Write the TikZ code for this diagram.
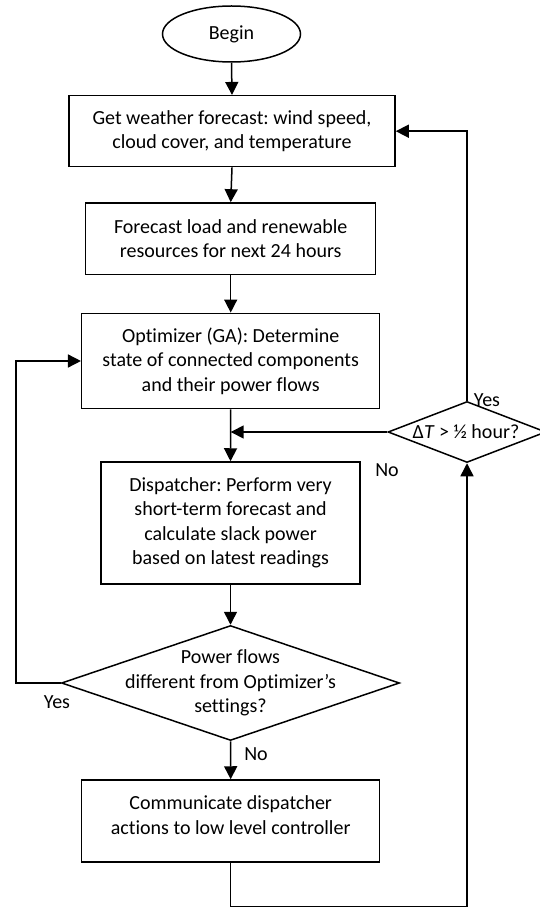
\documentclass[tikz,border=0pt]{standalone}
\usepackage{fontspec}
\setmainfont{Carlito}[Ligatures=NoCommon]
\frenchspacing
\usetikzlibrary{shapes.geometric,arrows.meta}
\begin{document}
\begin{tikzpicture}[x=1pt,y=-1pt,
  every node/.style={font=\fontsize{20}{24.5}\selectfont},
  line/.style={line width=1.5pt},
  arr/.style={line, -{Triangle[width=13pt,length=13pt]}},
  box/.style={draw, line width=1.5pt, rectangle, align=center, inner sep=0pt},
  dia/.style={draw, line width=1.5pt, diamond, inner sep=0pt},
  txt/.style={align=center, inner sep=0pt},
  lbl/.style={inner sep=0pt}]
\useasboundingbox (0,0) rectangle (540,909);
\node[draw, line width=1.5pt, ellipse, minimum width=138pt, minimum height=56pt, inner sep=0pt] (begin) at (231.5,34) {Begin};
\node[box, minimum width=326pt, minimum height=71pt] (b1) at (232,131.2) {Get weather forecast: wind speed,\\cloud cover, and temperature};
\node[box, minimum width=290pt, minimum height=71.7pt] (b2) at (230.7,238.8) {Forecast load and renewable\\resources for next 24 hours};
\node[box, minimum width=298pt, minimum height=95.4pt] (b3) at (230.7,361) {Optimizer (GA): Determine\\state of connected components\\and their power flows};
\node[box, minimum width=259pt, minimum height=122pt] (b4) at (230.5,523) {Dispatcher: Perform very\\short-term forecast and\\calculate slack power\\based on latest readings};
\node[dia, minimum width=338pt, minimum height=115pt] (d1) at (230.5,683) {};
\node[txt] (d1t) at (230.5,683) {Power flows\\different from Optimizer’s\\settings?};
\node[box, minimum width=298pt, minimum height=82pt] (b5) at (230.7,821) {};
\node[txt] (b5t) at (230.7,815) {Communicate dispatcher\\actions to low level controller};
\node[dia, minimum width=158pt, minimum height=61pt] (d2) at (467,432) {};
\node[txt] (d2t) at (466,432) {Δ\textit{T} > ½ hour?};
% labels
\node[lbl] (yes1) at (487,400) {Yes};
\node[lbl] (no1) at (387,470) {No};
\node[lbl] (yes2) at (57,702) {Yes};
\node[lbl] (no2) at (256,754) {No};
% connectors
\draw[arr] (begin.south) -- (b1.north);
\draw[arr] (b1.south) -- (b2.north);
\draw[arr] (b2.south) -- (b3.north);
\draw[arr] (b3.south) -- (b4.north);
\draw[arr] (b4.south) -- (d1.north);
\draw[arr] (d1.south) -- (b5.north);
\coordinate (lx) at (16,683);
\draw[arr] (d1.west) -- (lx) |- (b3.west);
\coordinate (bl) at (230.7,906.5);
\draw[arr] (b5.south) -- (bl) -| (d2.south);
\draw[arr] (d2.north) |- (b1.east);
\coordinate (mj) at (230.7,432);
\draw[arr] (d2.west) -- (mj);
\end{tikzpicture}
\end{document}
